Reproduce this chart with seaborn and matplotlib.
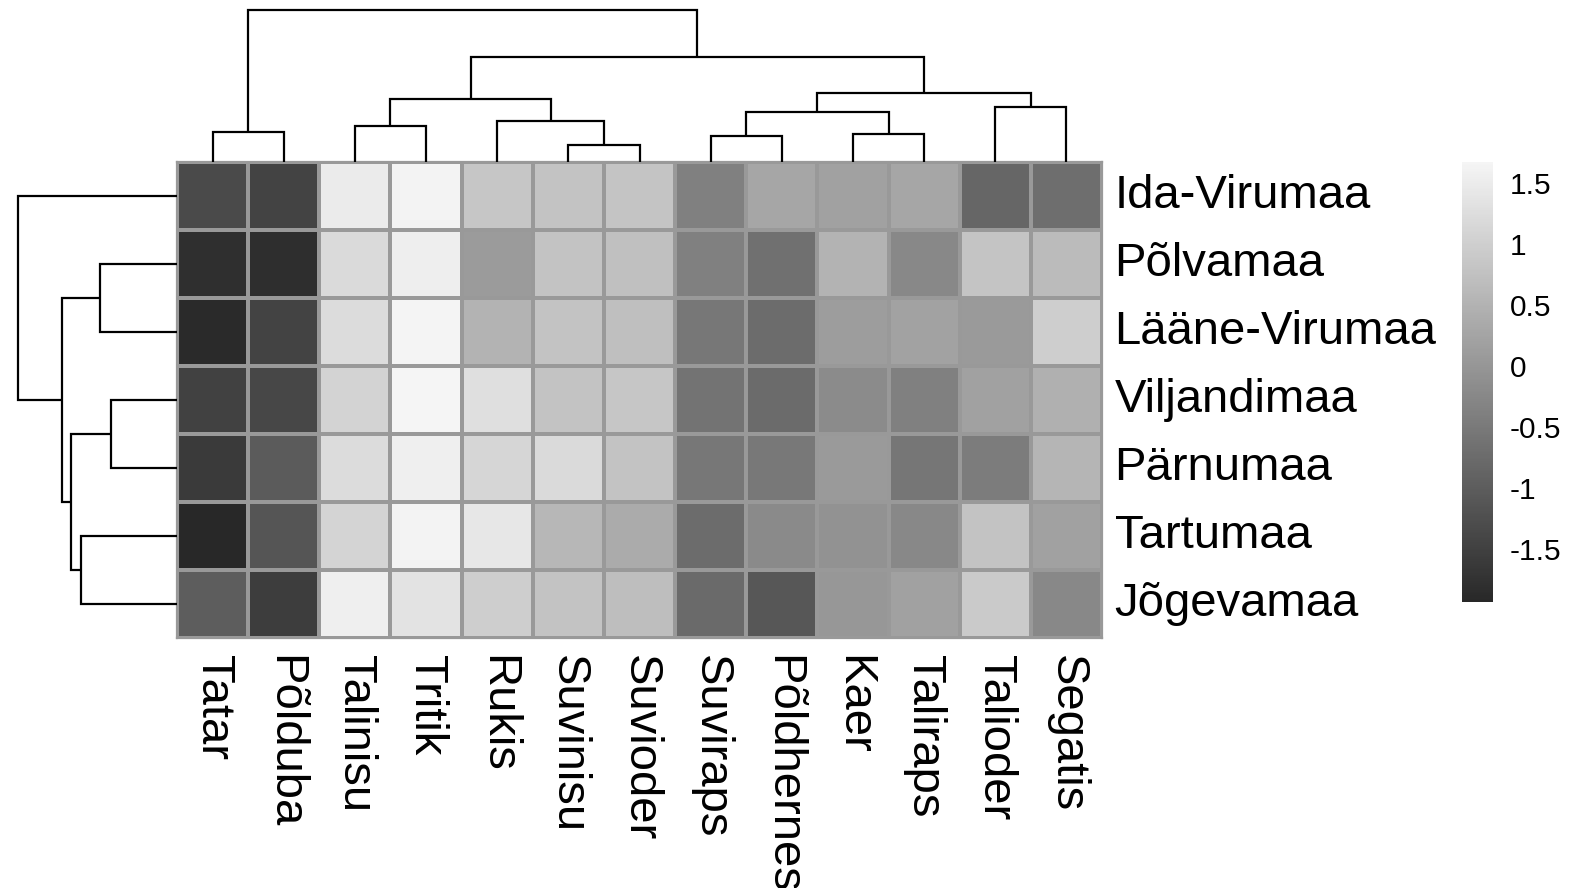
import numpy as np
import pandas as pd
import matplotlib
matplotlib.use("Agg")
import matplotlib.pyplot as plt
from matplotlib.colors import LinearSegmentedColormap
import seaborn as sns

# ---------------- data ----------------
crops = ["Tatar", "Põlduba", "Talinisu", "Tritik", "Rukis", "Suvinisu", "Suvioder",
         "Suviraps", "Põldhernes", "Kaer", "Taliraps", "Talioder", "Segatis"]
counties = ["Ida-Virumaa", "Põlvamaa", "Lääne-Virumaa", "Viljandimaa",
            "Pärnumaa", "Tartumaa", "Jõgevamaa"]

ida_virumaa   = [-1.33, -1.44, 1.49, 1.62, 0.84, 0.79, 0.81, -0.38, 0.28, 0.18, 0.28, -0.84, -0.70]
polvamaa      = [-1.79, -1.81, 1.20, 1.53, 0.09, 0.79, 0.74, -0.38, -0.67, 0.51, -0.24, 0.81, 0.65]
laane_virumaa = [-1.88, -1.44, 1.23, 1.65, 0.51, 0.79, 0.72, -0.54, -0.74, 0.11, 0.21, 0.07, 0.97]
viljandimaa   = [-1.49, -1.37, 1.07, 1.66, 1.28, 0.79, 0.83, -0.61, -0.75, -0.19, -0.38, 0.18, 0.46]
parnumaa      = [-1.61, -1.03, 1.23, 1.56, 1.13, 1.18, 0.79, -0.54, -0.53, 0.07, -0.56, -0.46, 0.55]
tartumaa      = [-1.92, -1.14, 1.09, 1.62, 1.41, 0.58, 0.37, -0.74, -0.21, -0.07, -0.24, 0.79, 0.18]
jogevamaa     = [-1.00, -1.56, 1.56, 1.34, 0.97, 0.79, 0.69, -0.77, -1.10, 0.02, 0.18, 0.92, -0.24]

# column dendrogram (leaves 0..12 in display order, merge k gets id 13+k)
col_merge_left   = [5, 7, 9, 0, 2, 4, 14, 11, 17, 19, 21, 16]
col_merge_right  = [6, 8, 10, 1, 3, 13, 15, 12, 18, 20, 22, 23]
col_merge_height = [17, 26, 28, 30, 36, 41, 50, 55, 63, 69, 105, 152]

# row dendrogram (leaves 0..6 in display order, merge k gets id 7+k)
row_merge_left   = [3, 1, 5, 7, 8, 0]
row_merge_right  = [4, 2, 6, 9, 10, 11]
row_merge_height = [66, 77, 96, 106, 115, 159]

cbar_ticks = [1.5, 1, 0.5, 0, -0.5, -1, -1.5]
cbar_ticklabels = ["1.5", "1", "0.5", "0", "-0.5", "-1", "-1.5"]
vmin, vmax = -1.93, 1.67

# ---------------- figure ----------------
sns.set_style("white")
plt.rcParams["font.family"] = ["Liberation Sans", "DejaVu Sans"]
plt.rcParams["text.color"] = "black"
plt.rcParams["xtick.color"] = "black"
plt.rcParams["ytick.color"] = "black"
plt.rcParams["xtick.labelcolor"] = "black"
plt.rcParams["ytick.labelcolor"] = "black"

W, H = 1577, 888
fig = plt.figure(figsize=(W / 100, H / 100), dpi=100)

def box(x0, y0, x1, y1):
    return [x0 / W, (H - y1) / H, (x1 - x0) / W, (y1 - y0) / H]

ax_heat = fig.add_axes(box(177, 162, 1102, 638))
ax_col = fig.add_axes(box(177, 10, 1102, 162))
ax_row = fig.add_axes(box(18, 162, 177, 638))
ax_cb = fig.add_axes(box(1462, 162, 1493, 602))

df = pd.DataFrame([ida_virumaa, polvamaa, laane_virumaa, viljandimaa,
                   parnumaa, tartumaa, jogevamaa], index=counties, columns=crops)

cmap = LinearSegmentedColormap.from_list("greys", ["#282828", "#f5f5f5"])

sns.heatmap(df, ax=ax_heat, cmap=cmap, vmin=vmin, vmax=vmax,
            linewidths=1.6, linecolor="#999999", cbar_ax=ax_cb,
            xticklabels=True, yticklabels=True)

# outer border
for s in ax_heat.spines.values():
    s.set_visible(True)
    s.set_color("#999999")
    s.set_linewidth(1.6)

ax_heat.yaxis.tick_right()
ax_heat.tick_params(axis="both", length=0, labelsize=34, labelcolor="black")
ax_heat.tick_params(axis="y", pad=9)
ax_heat.tick_params(axis="x", pad=12)
ax_heat.set_yticklabels(counties, rotation=0, va="center", ha="left", color="black")
ax_heat.set_xticklabels(crops, rotation=-90, ha="center", va="top", color="black")
ax_heat.set_xlabel("")
ax_heat.set_ylabel("")

# colorbar
cb = ax_heat.collections[0].colorbar
cb.outline.set_visible(False)
cb.set_ticks(cbar_ticks)
cb.set_ticklabels(cbar_ticklabels)
ax_cb.tick_params(length=0, labelsize=21.5, pad=12, labelcolor="black")

# ---------------- dendrograms ----------------
def dendro_segments(left, right, height, n):
    pos = {i: i + 0.5 for i in range(n)}
    hgt = {i: 0.0 for i in range(n)}
    segs = []
    for k, (a, b, h) in enumerate(zip(left, right, height)):
        xa, xb = pos[a], pos[b]
        segs.append(([xa, xa, xb, xb], [hgt[a], h, h, hgt[b]]))
        pos[n + k] = (xa + xb) / 2
        hgt[n + k] = h
    return segs

for xs, ys in dendro_segments(col_merge_left, col_merge_right, col_merge_height, len(crops)):
    ax_col.plot(xs, ys, color="black", lw=1.6, solid_joinstyle="miter", solid_capstyle="butt")
ax_col.set_xlim(0, len(crops))
ax_col.set_ylim(0, max(col_merge_height))
ax_col.axis("off")

for ys, xs in dendro_segments(row_merge_left, row_merge_right, row_merge_height, len(counties)):
    ax_row.plot(xs, ys, color="black", lw=1.6, solid_joinstyle="miter", solid_capstyle="butt")
ax_row.set_ylim(len(counties), 0)
ax_row.set_xlim(max(row_merge_height), 0)
ax_row.axis("off")

for a in (ax_col, ax_row):
    for line in a.lines:
        line.set_clip_on(False)

fig.savefig("out.png", dpi=100, facecolor="white")
